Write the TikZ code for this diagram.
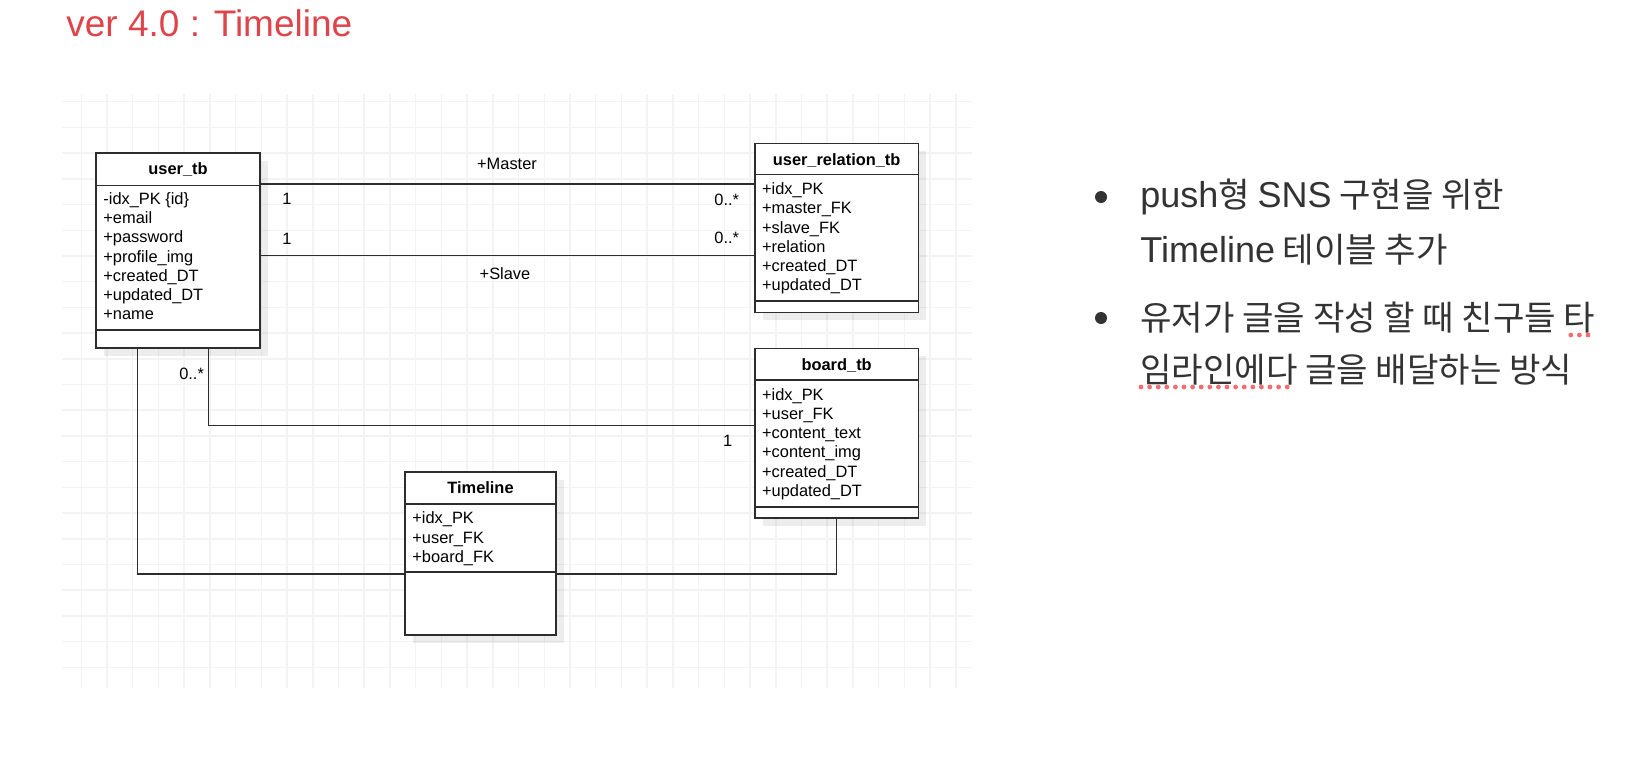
\documentclass[tikz,border=0pt]{standalone}
\usepackage{fontspec}
\setmainfont{Liberation Sans}
\newfontfamily\krfont{Noto Sans CJK KR}
\newfontfamily\latfont{Liberation Sans}
\newcommand\latw[1]{{\latfont\fontsize{18}{20}\selectfont #1}}
\usetikzlibrary{fit,shadows,calc}
\definecolor{ink}{RGB}{45,45,45}
\definecolor{titlered}{RGB}{222,69,75}
\definecolor{txt}{RGB}{51,51,51}
\definecolor{gridc}{RGB}{243,243,243}
\definecolor{dotred}{RGB}{242,110,110}
\begin{document}
\begin{tikzpicture}[x=0.5pt,y=-0.5pt,
  gridline/.style={draw=gridc, line width=0.75pt},
  umlbox/.style={draw=ink, line width=0.8pt, inner sep=0pt, outer sep=0pt, fill=white,
    drop shadow={shadow xshift=4pt, shadow yshift=-4pt, fill=black, opacity=0.07}},
  divider/.style={draw=ink, line width=0.8pt},
  conn/.style={draw=ink, line width=0.75pt},
  attr/.style={anchor=base west, inner sep=0pt, font=\fontsize{8.2}{9.6}\selectfont, text=black},
  ttl/.style={anchor=base, inner sep=0pt, font=\fontsize{8.2}{9.6}\selectfont\bfseries, text=black},
  mult/.style={anchor=base, inner sep=0pt, font=\fontsize{8.2}{9.6}\selectfont, text=black},
  kr/.style={anchor=base west, inner sep=0pt, font=\krfont\fontsize{17.1}{20}\selectfont, text=txt},
  bullet/.style={circle, fill=txt, minimum size=6pt, inner sep=0pt},
]
\fill[white] (0,0) rectangle (1632,778);
\useasboundingbox (0,0) rectangle (1632,778);

% grid
\foreach \k in {0,...,34} \draw[gridline] ({81.3+25.72*\k},94) -- ({81.3+25.72*\k},687.7);
\foreach \k in {0,...,22} \draw[gridline] (62,{101.7+25.71*\k}) -- (971.7,{101.7+25.71*\k});

% title
\node[anchor=base west, inner sep=0pt, text=titlered, font=\fontsize{18.5}{20}\selectfont] (title) at (66,36.7) {ver 4.0 : Timeline};

% user_tb
\coordinate (ut-nw) at (96,152.7); \coordinate (ut-se) at (260,348);
\node[umlbox, fit=(ut-nw)(ut-se)] (ut) {};
\draw[divider] (96,185.3) -- (260,185.3);
\draw[divider] (96,330) -- (260,330);
\node[ttl] (utt) at (178,174.5) {user\_tb};
\foreach \t [count=\i from 0] in {-idx\_PK \{id\},+email,+password,+profile\_img,+created\_DT,+updated\_DT,+name}
  \node[attr] (ua\i) at (103,{204.5+19.2*\i}) {\t};

% user_relation_tb
\coordinate (ur-nw) at (755,143.3); \coordinate (ur-se) at (918.3,312.3);
\node[umlbox, fit=(ur-nw)(ur-se)] (ur) {};
\draw[divider] (755,174.3) -- (918.3,174.3);
\draw[divider] (755,301) -- (918.3,301);
\node[ttl] (urt) at (836.65,165) {user\_relation\_tb};
\foreach \t [count=\i from 0] in {+idx\_PK,+master\_FK,+slave\_FK,+relation,+created\_DT,+updated\_DT}
  \node[attr] (ra\i) at (761.7,{194.8+19.1*\i}) {\t};

% board_tb
\coordinate (ub-nw) at (755,348.3); \coordinate (ub-se) at (918.3,517.7);
\node[umlbox, fit=(ub-nw)(ub-se)] (ub) {};
\draw[divider] (755,380) -- (918.3,380);
\draw[divider] (755,506.7) -- (918.3,506.7);
\node[ttl] (ubt) at (836.65,370.5) {board\_tb};
\foreach \t [count=\i from 0] in {+idx\_PK,+user\_FK,+content\_text,+content\_img,+created\_DT,+updated\_DT}
  \node[attr] (ba\i) at (761.7,{400.5+19.14*\i}) {\t};

% Timeline
\coordinate (tl-nw) at (405,471.7); \coordinate (tl-se) at (556,635);
\node[umlbox, fit=(tl-nw)(tl-se)] (tl) {};
\draw[divider] (405,504) -- (556,504);
\draw[divider] (405,571.7) -- (556,571.7);
\node[ttl] (tlt) at (480.5,493) {Timeline};
\foreach \t [count=\i from 0] in {+idx\_PK,+user\_FK,+board\_FK}
  \node[attr] (ta\i) at (412,{523.8+19.2*\i}) {\t};

% connector levels
\coordinate (yM) at (0,184);
\coordinate (yS) at (0,255.7);
\coordinate (xUB) at (208.3,0);
\coordinate (yUB) at (0,425.3);
\coordinate (xUT) at (137.7,0);
\coordinate (yT) at (0,574);

% connectors
\draw[conn] (ut.east |- yM) -- (ur.west |- yM);
\draw[conn] (ut.east |- yS) -- (ur.west |- yS);
\draw[conn] (ut.south -| xUB) |- (ub.west |- yUB);
\draw[conn] (ut.south -| xUT) |- (tl.west |- yT);
\draw[conn] (tl.east |- yT) -| (ub.south);

% multiplicities and roles
\node[mult] (lm) at (507,169.5) {+Master};
\node[mult] (ls) at (505,279.5) {+Slave};
\node[mult] (m1) at (287,204.5) {1};
\node[mult] (m2) at (287,244.5) {1};
\node[mult] (m3) at (726.7,205.5) {0..*};
\node[mult] (m4) at (726.7,243.8) {0..*};
\node[mult] (m5) at (191.6,379.8) {0..*};
\node[mult] (m6) at (727.7,446.5) {1};

% bullets
\node[bullet] (b1) at (1101,197) {};
\node[bullet] (b2) at (1101,318) {};
\node[kr] (k1) at (1140,207) {\latw{push}형 \latw{SNS} 구현을 위한};
\node[kr] (k2) at (1140,262) {\latw{Timeline} 테이블 추가};
\node[kr] (k3) at (1140,330.5) {유저가 글을 작성 할 때 친구들 타};
\node[kr] (k4) at (1140,382) {임라인에다 글을 배달하는 방식};

% spell-check dots
\foreach \k in {0,...,17} \fill[dotred] ($(k4.base west)+({1+8.6*\k},5)$) circle[radius=1.2pt];
\foreach \k in {0,...,2} \fill[dotred] ($(k3.base east)+({-25+8.6*\k},4.5)$) circle[radius=1.2pt];
\end{tikzpicture}
\end{document}
